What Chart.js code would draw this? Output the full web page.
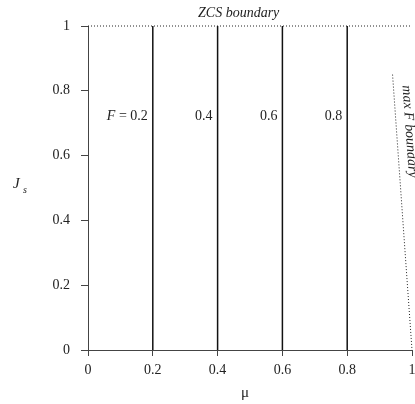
<!DOCTYPE html>
<html>
<head>
<meta charset="utf-8">
<script src="https://cdn.jsdelivr.net/npm/chart.js@4"></script>
<style>
  html, body { margin: 0; padding: 0; background: #fff; }
  #wrap { width: 415px; height: 404px; }
</style>
</head>
<body>
<div id="wrap"><canvas id="chart"></canvas></div>
<script>
// chart values
const fValues = [0.2, 0.4, 0.6, 0.8];
const fLabels = ['0.2', '0.4', '0.6', '0.8'];
const jsRange = [0, 1];
const zcsX = [0, 1];
const zcsY = [1, 1];
const maxFX = [0.94, 1];
const maxFY = [0.85, 0];
const xTicks = [0, 0.2, 0.4, 0.6, 0.8, 1];
const yTicks = [0, 0.2, 0.4, 0.6, 0.8, 1];
const fLabelY = 0.72;

const serif = "'Liberation Serif', 'DejaVu Serif', serif";
const fmt = v => String(Math.round(v * 10) / 10);

const datasets = fValues.map(f => ({
    data: jsRange.map(j => ({ x: f, y: j })),
    borderColor: '#111',
    borderWidth: 1.5
}));
datasets.push({
    data: zcsX.map((x, i) => ({ x: x, y: zcsY[i] })),
    borderColor: '#222',
    borderWidth: 1,
    borderDash: [1, 2]
});
datasets.push({
    data: maxFX.map((x, i) => ({ x: x, y: maxFY[i] })),
    borderColor: '#222',
    borderWidth: 1,
    borderDash: [1, 2]
});
datasets.forEach(d => {
    d.showLine = true;
    d.pointRadius = 0;
    d.fill = false;
    d.clip = 6;
});

// text annotations
const annotations = {
    id: 'annotations',
    afterDraw(chart) {
        const ctx = chart.ctx;
        const xs = chart.scales.x;
        const ys = chart.scales.y;
        ctx.save();
        ctx.fillStyle = '#222';

        // F labels, left of each line
        ctx.textBaseline = 'middle';
        ctx.textAlign = 'right';
        const ly = ys.getPixelForValue(fLabelY);
        fValues.forEach((f, i) => {
            const px = xs.getPixelForValue(f) - 5;
            ctx.font = '14px ' + serif;
            if (i === 0) {
                const rest = ' = ' + fLabels[i];
                ctx.fillText(rest, px, ly);
                const w = ctx.measureText(rest).width;
                ctx.font = 'italic 14px ' + serif;
                ctx.fillText('F', px - w, ly);
            } else {
                ctx.fillText(fLabels[i], px, ly);
            }
        });

        // ZCS boundary
        ctx.font = 'italic 14px ' + serif;
        ctx.textAlign = 'center';
        ctx.textBaseline = 'alphabetic';
        ctx.fillText('ZCS boundary', xs.getPixelForValue(0.465), 17);

        // max F boundary, along the dotted line
        const x0 = xs.getPixelForValue(maxFX[0]), y0 = ys.getPixelForValue(maxFY[0]);
        const x1 = xs.getPixelForValue(maxFX[1]), y1 = ys.getPixelForValue(maxFY[1]);
        const ang = Math.atan2(y1 - y0, x1 - x0);
        ctx.translate(x0 + 10, y0 + 11);
        ctx.rotate(ang);
        ctx.textAlign = 'left';
        ctx.font = 'italic 14px ' + serif;
        ctx.fillText('max F boundary', 0, 0);
        ctx.restore();

        // axis titles
        ctx.save();
        ctx.fillStyle = '#222';
        ctx.textBaseline = 'alphabetic';
        ctx.textAlign = 'left';
        ctx.font = 'italic 15px ' + serif;
        ctx.fillText('J', 13, 188);
        ctx.font = 'italic 10px ' + serif;
        ctx.fillText('s', 23, 193);
        ctx.font = '15px ' + serif;
        ctx.textAlign = 'center';
        ctx.fillText('\u03bc', 245, 397);
        ctx.restore();
    }
};

new Chart(document.getElementById('chart'), {
    type: 'scatter',
    data: { datasets: datasets },
    options: {
        responsive: true,
        maintainAspectRatio: false,
        animation: false,
        layout: { padding: { top: 26, right: 3, left: 0, bottom: 0 } },
        plugins: { legend: { display: false }, tooltip: { enabled: false } },
        scales: {
            x: {
                type: 'linear',
                min: 0,
                max: 1,
                afterBuildTicks: s => { s.ticks = xTicks.map(v => ({ value: v })); },
                afterFit: s => { s.height = 54; s.paddingLeft = 0; s.paddingRight = 0; },
                border: { display: true, color: '#444', width: 1 },
                grid: { display: true, drawOnChartArea: false, tickLength: 6, color: '#444' },
                ticks: { color: '#222', font: { family: serif, size: 14 }, padding: 6, maxRotation: 0, callback: fmt }
            },
            y: {
                type: 'linear',
                min: 0,
                max: 1,
                afterBuildTicks: s => { s.ticks = yTicks.map(v => ({ value: v })); },
                afterFit: s => { s.width = 88; s.paddingTop = 0; s.paddingBottom = 0; },
                border: { display: true, color: '#444', width: 1 },
                grid: { display: true, drawOnChartArea: false, tickLength: 7, color: '#444' },
                ticks: { color: '#222', font: { family: serif, size: 14 }, padding: 11, callback: fmt }
            }
        }
    },
    plugins: [annotations]
});
</script>
</body>
</html>
